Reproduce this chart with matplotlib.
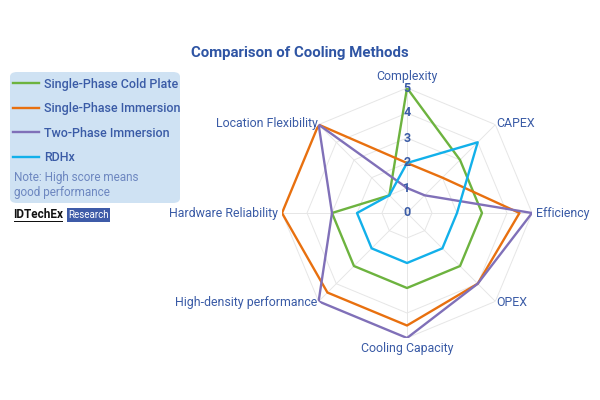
import numpy as np
import matplotlib
matplotlib.use('Agg')
import matplotlib.pyplot as plt
from matplotlib.patches import FancyBboxPatch, Rectangle

plt.rcParams['font.family'] = ['Roboto', 'DejaVu Sans']

categories = ['Complexity', 'CAPEX', 'Efficiency', 'OPEX', 'Cooling Capacity',
              'High-density performance', 'Hardware Reliability', 'Location Flexibility']
cold_plate = [5, 3, 3, 3, 3, 3, 3, 1]
sp_immersion = [2, 2, 4.5, 4, 4.5, 4.5, 5, 5]
tp_immersion = [1, 1, 5, 4, 5, 5, 3, 5]
rdhx = [2, 4, 2, 2, 2, 2, 2, 1]
series_names = ['Single-Phase Cold Plate', 'Single-Phase Immersion', 'Two-Phase Immersion', 'RDHx']
colors = ['#6db33f', '#e8700f', '#8070b8', '#12b0ea']
ticks = [0, 1, 2, 3, 4, 5]

text_blue = '#3a5ba6'

fig = plt.figure(figsize=(6, 4), dpi=100)
ax = fig.add_axes([0.47, 0.155, 250 / 600, 0.625], projection='polar')
ax.set_theta_zero_location('N')
ax.set_theta_direction(-1)
ax.set_ylim(0, 5)
ax.grid(False)
ax.spines['polar'].set_visible(False)
ax.set_xticks([])
ax.set_yticks([])
ax.patch.set_alpha(0)

n = len(categories)
angles = np.linspace(0, 2 * np.pi, n, endpoint=False)
closed = np.append(angles, angles[0])

# octagon grid
for lvl in ticks[1:]:
    ax.plot(closed, [lvl] * (n + 1), color='#e6e6e6', lw=0.7, zorder=1)
for a in angles:
    ax.plot([a, a], [0, 5], color='#e6e6e6', lw=0.7, zorder=1)

lines = []
for vals, name, c in zip([cold_plate, sp_immersion, tp_immersion, rdhx], series_names, colors):
    l, = ax.plot(closed, vals + vals[:1], color=c, lw=1.7, label=name, zorder=3)
    lines.append(l)

for t in ticks:
    ax.text(0, t, str(t), ha='center', va='center', fontsize=9, fontweight='bold',
            color=text_blue, zorder=4)

# category labels
align = [('center', 'bottom'), ('left', 'center'), ('left', 'center'), ('left', 'center'),
         ('center', 'top'), ('right', 'center'), ('right', 'center'), ('right', 'center')]
for a, lab, (ha, va) in zip(angles, categories, align):
    if lab == 'Complexity':
        r = 5.2
    elif lab in ('Efficiency', 'Cooling Capacity', 'Hardware Reliability'):
        r = 5.15
    else:
        r = 5.05
    ax.text(a, r, lab, ha=ha, va=va, fontsize=8.9, color=text_blue)

fig.text(0.5, 0.868, 'Comparison of Cooling Methods', ha='center', va='center',
         fontsize=10.8, fontweight='bold', color='#2f55a4')

# legend box
box = FancyBboxPatch((10 / 600, 1 - 203 / 400), 170 / 600, 131 / 400,
                     boxstyle='round,pad=0,rounding_size=0.012', transform=fig.transFigure,
                     facecolor='#cfe2f3', edgecolor='none', zorder=0)
fig.patches.append(box)
leg = fig.legend(handles=lines, loc='upper left', bbox_to_anchor=(0.022, 0.806),
                 frameon=False, fontsize=9, handlelength=2.1, handletextpad=0.35,
                 labelspacing=0.92, borderpad=0, borderaxespad=0)
for txt in leg.get_texts():
    txt.set_color(text_blue)
    txt.set_fontweight('medium')
fig.text(0.023, 1 - 185 / 400, 'Note: High score means\ngood performance', ha='left', va='center',
         fontsize=8.5, color='#6d87c0', linespacing=1.15)

# logo
fig.text(0.022, 1 - 215 / 400, 'IDTechEx', ha='left', va='center', fontsize=8.5,
         fontweight='bold', color='#111111')
fig.patches.append(Rectangle((14 / 600, 1 - 222 / 400), 49 / 600, 1 / 400,
                             transform=fig.transFigure, facecolor='#111111', edgecolor='none'))
fig.patches.append(Rectangle((67 / 600, 1 - 222 / 400), 43 / 600, 14 / 400,
                             transform=fig.transFigure, facecolor='#3e5ba8', edgecolor='none'))
fig.text(88.5 / 600, 1 - 215 / 400, 'Research', ha='center', va='center', fontsize=7,
         color='white')

fig.savefig('out.png', dpi=100)
